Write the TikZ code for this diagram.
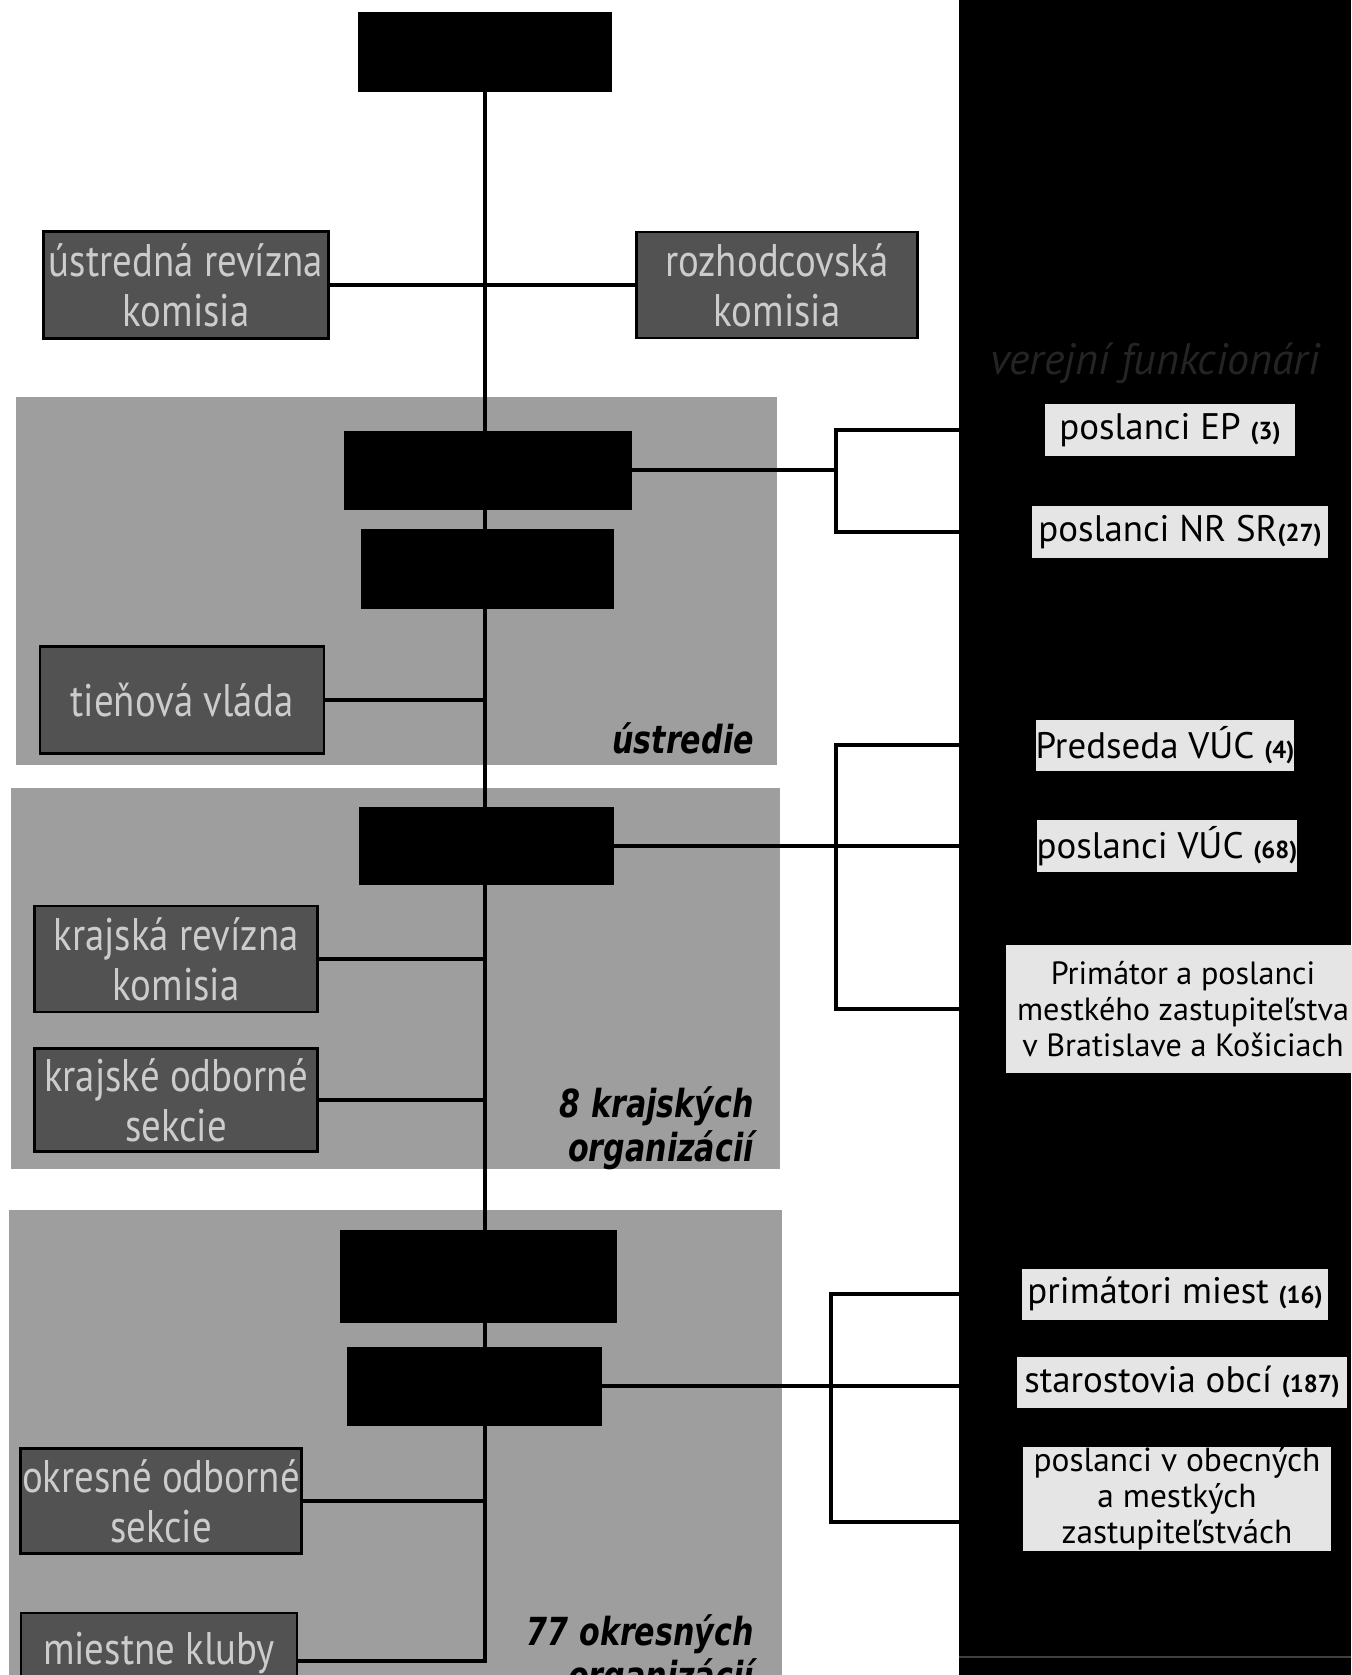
\documentclass[tikz,border=0pt]{standalone}
\usepackage{fontspec}
\setmainfont{PT Sans}
\newfontfamily\sidefont{PT Sans}[FakeStretch=0.85]
\newfontfamily\tierfont{DejaVu Sans}[FakeStretch=0.78]
\usetikzlibrary{positioning,calc}
\newcommand\pocet[1]{{\bfseries\fontsize{14}{14}\selectfont(#1)}}

\begin{document}
\begin{tikzpicture}[x=0.02cm,y=-0.02cm,
    organ/.style={fill=black,draw=black,inner sep=0pt},
    sidebox/.style={fill=black!68,draw=black,line width=1.2pt,text=black!20,
      font=\sidefont\fontsize{26}{28.5}\selectfont,align=center,inner sep=0pt},
    pubbox/.style={fill=black!10,text=black,font=\fontsize{21}{24}\selectfont,
      align=center,inner sep=0pt},
    link/.style={line width=2pt},
    tier/.style={font=\tierfont\bfseries\itshape\fontsize{22}{25}\selectfont,
      align=right,anchor=east}]
  \useasboundingbox (0,0) rectangle (1351,1675);
  \fill[white] (0,0) rectangle (1351,1675);
  % gray bands and the dark panel
  \fill[black!38] (16,397) rectangle (777,765);
  \fill[black!38] (11,788) rectangle (780,1169);
  \fill[black!38] (9,1210) rectangle (782,1675);
  \fill[black] (959,0) rectangle (1351,1675);
  \draw[black!75,line width=0.8pt] (959,1657) -- (1351,1657);
  \node[text=black!86,font=\itshape\fontsize{25}{28}\selectfont] (verejni) at (1155,363) {verejní funkcionári};

  % party organs
  \node[organ,minimum width=5.06cm,minimum height=1.58cm] (snem) at (485,52) {};
  \node[sidebox,minimum width=5.70cm,minimum height=2.14cm] (urk) at (186,285) {ústredná revízna\\komisia};
  \node[sidebox,minimum width=5.62cm,minimum height=2.12cm] (rk) at (777,285) {rozhodcovská\\komisia};
  \node[organ,minimum width=5.74cm,minimum height=1.56cm] (rada) at (488,470) {};
  \node[organ,minimum width=5.04cm,minimum height=1.58cm] (pred) at (487,569) {};
  \node[sidebox,minimum width=5.68cm,minimum height=2.14cm] (tv) at (182,700) {tieňová vláda};
  \node[tier] (ustredie) at (760,738) {ústredie};

  \node[organ,minimum width=5.08cm,minimum height=1.54cm] (kraj) at (486,846) {};
  \node[sidebox,minimum width=5.66cm,minimum height=2.12cm] (krk) at (176,959) {krajská revízna\\komisia};
  \node[sidebox,minimum width=5.66cm,minimum height=2.06cm] (kos) at (176,1100) {krajské odborné\\sekcie};
  \node[tier] (krajske) at (760,1128) {8 krajských\\organizácií};

  \node[organ,minimum width=5.52cm,minimum height=1.84cm] (okres) at (478,1276) {};
  \node[organ,minimum width=5.08cm,minimum height=1.56cm] (okrpred) at (474,1386) {};
  \node[sidebox,minimum width=5.62cm,minimum height=2.10cm] (oos) at (161,1501) {okresné odborné\\sekcie};
  \node[sidebox,minimum width=5.52cm,minimum height=1.96cm,text depth=0.55cm] (kluby) at (159,1662) {miestne kluby};
  \node[tier] (okresne) at (760,1656) {77 okresných\\organizácií};

  % public officials
  \node[pubbox,minimum width=5.00cm,minimum height=1.04cm] (ep) at (1170,430) {poslanci EP \pocet{3}};
  \node[pubbox,minimum width=5.94cm,minimum height=1.06cm] (nrsr) at (1180,532) {poslanci NR SR\pocet{27}};
  \node[pubbox,minimum width=5.08cm,minimum height=1.02cm] (predvuc) at (1165,745) {Predseda VÚC \pocet{4}};
  \node[pubbox,minimum width=5.08cm,minimum height=1.04cm] (poslvuc) at (1167,846) {poslanci VÚC \pocet{68}};
  \node[pubbox,minimum width=7.08cm,minimum height=2.56cm,font=\fontsize{18.3}{20.6}\selectfont] (primator) at (1183,1009) {Primátor a poslanci\\mestkého zastupiteľstva\\v Bratislave a Košiciach};
  \node[pubbox,minimum width=6.12cm,minimum height=1.02cm] (primiest) at (1175,1294) {primátori miest \pocet{16}};
  \node[pubbox,minimum width=6.62cm,minimum height=1.02cm] (starosta) at (1182,1382) {starostovia obcí \pocet{187}};
  \node[pubbox,minimum width=6.16cm,minimum height=2.08cm,font=\fontsize{19}{20.6}\selectfont] (poslobce) at (1177,1499) {poslanci v obecných\\a mestkých\\zastupiteľstvách};

  \coordinate (br1) at (836,0);
  \coordinate (br2) at (836,0);
  \coordinate (br3) at (831,0);
  \coordinate (klubyend) at (297,1661);

  % spine and side links
  \draw[link] (snem.south) -- (snem.south |- klubyend) -- (klubyend);
  \draw[link] (urk) -- (rk);
  \draw[link] (tv.east) -- (tv.east -| snem.south);
  \draw[link] (krk.east) -- (krk.east -| snem.south);
  \draw[link] (kos.east) -- (kos.east -| snem.south);
  \draw[link] (oos.east) -- (oos.east -| snem.south);

  % brackets to the officials
  \draw[link] (rada.east) -- (rada.east -| br1);
  \draw[link] (ep.west) -- (ep.west -| br1) |- (nrsr.west);
  \draw[link] (kraj.east) -- (kraj.east -| poslvuc.west);
  \draw[link] (predvuc.west) -- (predvuc.west -| br2) |- (primator.west);
  \draw[link] (okrpred.east) -- (okrpred.east -| starosta.west);
  \draw[link] (primiest.west) -- (primiest.west -| br3) |- ([yshift=-13pt]poslobce.west);
\end{tikzpicture}
\end{document}
